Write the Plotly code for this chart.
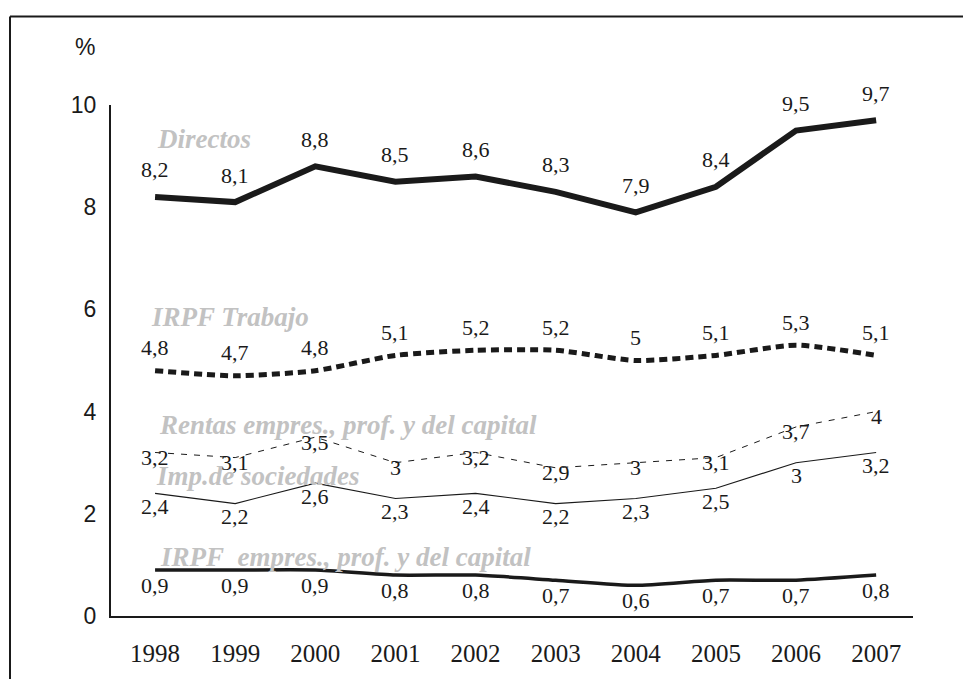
import plotly.graph_objects as go

years = [1998, 1999, 2000, 2001, 2002, 2003, 2004, 2005, 2006, 2007]

directos = [8.2, 8.1, 8.8, 8.5, 8.6, 8.3, 7.9, 8.4, 9.5, 9.7]
irpf_trabajo = [4.8, 4.7, 4.8, 5.1, 5.2, 5.2, 5.0, 5.1, 5.3, 5.1]
rentas = [3.2, 3.1, 3.5, 3.0, 3.2, 2.9, 3.0, 3.1, 3.7, 4.0]
sociedades = [2.4, 2.2, 2.6, 2.3, 2.4, 2.2, 2.3, 2.5, 3.0, 3.2]
irpf_empres = [0.9, 0.9, 0.9, 0.8, 0.8, 0.7, 0.6, 0.7, 0.7, 0.8]

y_ticks = [0, 2, 4, 6, 8, 10]

SERIF = "Liberation Serif, Times New Roman, serif"
SANS = "Liberation Sans, Arial, sans-serif"
INK = "#1a1a1a"
GREY = "#c2c2c2"


def fmt(v):
    s = f"{v:g}"
    return s.replace(".", ",")


# name, values, line style, label shift (px), series-name text and position
series = [
    ("Directos", directos, dict(color=INK, width=6), 27,
     "Directos", 1998.0, 9.33),
    ("IRPF Trabajo", irpf_trabajo, dict(color=INK, width=5, dash="8px,5px", shape="spline", smoothing=0.6), 23,
     "IRPF Trabajo", 1997.92, 5.85),
    ("Rentas", rentas, dict(color=INK, width=1, dash="6px,7px"), -5,
     "Rentas empres., prof. y del capital", 1998.02, 3.73),
    ("Sociedades", sociedades, dict(color=INK, width=1.1), -13,
     "Imp.de sociedades", 1997.99, 2.74),
    ("IRPF empres", irpf_empres, dict(color=INK, width=3.5, shape="spline", smoothing=0.6), -15,
     "IRPF\u00a0 empres., prof. y del capital", 1998.04, 1.16),
]

fig = go.Figure()
annotations = []

for name, vals, line, shift, title, tx, ty in series:
    fig.add_trace(go.Scatter(x=years, y=vals, mode="lines", line=line,
                             name=name, showlegend=False, hoverinfo="skip"))
    for x, v in zip(years, vals):
        annotations.append(dict(x=x, y=v, text=fmt(v), showarrow=False,
                                yshift=shift, xanchor="center", yanchor="middle",
                                font=dict(family=SERIF, size=22, color=INK)))
    annotations.append(dict(x=tx, y=ty, text=f"<b><i>{title}</i></b>", showarrow=False,
                            xanchor="left", yanchor="middle",
                            font=dict(family=SERIF, size=27, color=GREY)))

annotations.append(dict(xref="paper", yref="paper", x=-0.032, y=1.114, text="%",
                        showarrow=False, xanchor="center", yanchor="middle",
                        font=dict(family=SANS, size=23, color=INK)))

# plot area: x 111..913 px, y 105..630 px
PW, PH = 802, 525
def px_x(p):
    return (p - 111) / PW
def px_y(p):
    return (630 - p) / PH

# open frame: top edge and left edge
shapes = [
    dict(type="line", xref="paper", yref="paper",
         x0=px_x(10), x1=px_x(975), y0=px_y(14), y1=px_y(14),
         line=dict(color=INK, width=2)),
    dict(type="line", xref="paper", yref="paper",
         x0=px_x(10), x1=px_x(10), y0=px_y(14), y1=px_y(700),
         line=dict(color=INK, width=2)),
]

fig.update_layout(
    width=963, height=679,
    margin=dict(l=111, r=50, t=105, b=49),
    paper_bgcolor="white", plot_bgcolor="white",
    annotations=annotations, shapes=shapes,
    xaxis=dict(range=[1997.45, 2007.46], tickmode="array", tickvals=years,
               ticktext=[str(y) for y in years], showgrid=False, zeroline=False,
               showline=True, linecolor=INK, linewidth=2, ticks="",
               ticklabelstandoff=14,
               tickfont=dict(family=SERIF, size=25, color=INK)),
    yaxis=dict(range=[0, 10], tickmode="array", tickvals=y_ticks,
               ticktext=[str(t) for t in y_ticks], showgrid=False, zeroline=False,
               showline=True, linecolor=INK, linewidth=2, ticks="",
               ticklabelstandoff=8,
               tickfont=dict(family=SANS, size=23, color=INK)),
)

fig.write_html("out.html")
